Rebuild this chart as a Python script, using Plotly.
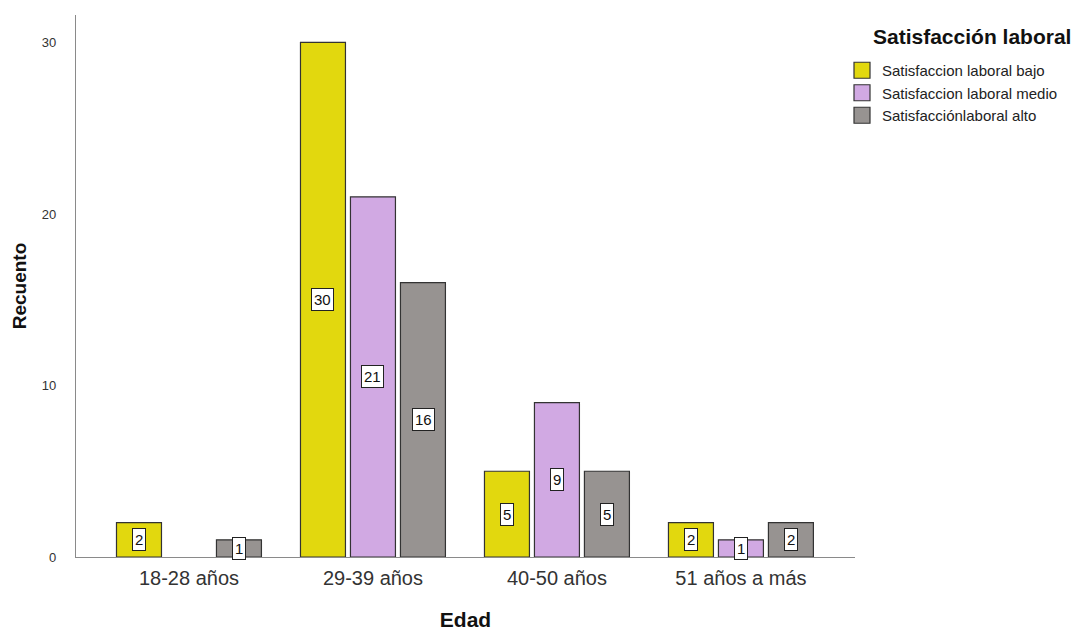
import plotly.graph_objects as go

categorias = ["18-28 años", "29-39 años", "40-50 años", "51 años a más"]
series = ["Satisfaccion laboral bajo", "Satisfaccion laboral medio", "Satisfacciónlaboral alto"]
bajo = [2, 30, 5, 2]
medio = [None, 21, 9, 1]
alto = [1, 16, 5, 2]
colores = ["#E2D80E", "#D1A9E3", "#979391"]

valores = [bajo, medio, alto]
borde = dict(color="#333333", width=1.2)

fig = go.Figure()
for nombre, vals, col in zip(series, valores, colores):
    fig.add_trace(go.Bar(
        x=categorias, y=vals, name=nombre, legendgroup=nombre, showlegend=False,
        marker=dict(color=col, line=borde),
        hoverinfo="skip",
    ))
# legend entries with larger square swatches
for nombre, col in zip(series, colores):
    fig.add_trace(go.Scatter(
        x=[None], y=[None], mode="markers", name=nombre, legendgroup=nombre,
        marker=dict(symbol="square", size=16, color=col, line=borde),
        hoverinfo="skip",
    ))

# white boxed count labels at the middle of each bar
slot = 0.272
for j, vals in enumerate(valores):
    for i, v in enumerate(vals):
        if v is None:
            continue
        fig.add_annotation(
            x=i + (j - 1) * slot, y=v / 2, xref="x", yref="y",
            text=str(v), showarrow=False,
            font=dict(family="Liberation Sans, Arial", size=15, color="#111"),
            bgcolor="white", bordercolor="#222", borderwidth=1, borderpad=2,
        )

# legend heading (paper coordinates from the pixel layout below)
plot_l, plot_r, plot_t, plot_b = 76, 855, 15, 557
fig.add_annotation(
    x=(972 - plot_l) / (plot_r - plot_l), y=(plot_b - 36) / (plot_b - plot_t),
    xref="paper", yref="paper", xanchor="center", yanchor="middle", showarrow=False,
    text="<b>Satisfacción laboral</b>",
    font=dict(family="Liberation Sans, Arial", size=21, color="#111"),
)

fig.update_layout(
    width=1086, height=631,
    margin=dict(l=plot_l, r=1086 - plot_r, t=plot_t, b=631 - plot_b, autoexpand=False),
    paper_bgcolor="white", plot_bgcolor="white",
    barmode="group", bargap=0.185, bargroupgap=0.1,
    font=dict(family="Liberation Sans, Arial", color="#222"),
    legend=dict(
        x=(842 - plot_l) / (plot_r - plot_l), xanchor="left",
        y=(plot_b - 54) / (plot_b - plot_t), yanchor="top",
        font=dict(size=15, color="#222"),
        tracegroupgap=0, itemwidth=30, itemsizing="trace",
    ),
)

fig.update_xaxes(
    type="category", range=[-0.614, 3.62],
    showline=True, linecolor="#8a8a8a", linewidth=1.2,
    ticks="", showgrid=False,
    tickfont=dict(size=20, color="#333"),
    ticklabelstandoff=3,
    title=dict(text="<b>Edad</b>", font=dict(size=21, color="#111"), standoff=27),
)
fig.update_yaxes(
    range=[0, 31.6], tickvals=[0, 10, 20, 30],
    showline=True, linecolor="#8a8a8a", linewidth=1.2,
    ticks="", showgrid=False, zeroline=False,
    tickfont=dict(size=13, color="#333"),
    ticklabelstandoff=16,
    title=dict(text="<b>Recuento</b>", font=dict(size=19, color="#111"), standoff=10),
)

fig.write_html("out.html")
